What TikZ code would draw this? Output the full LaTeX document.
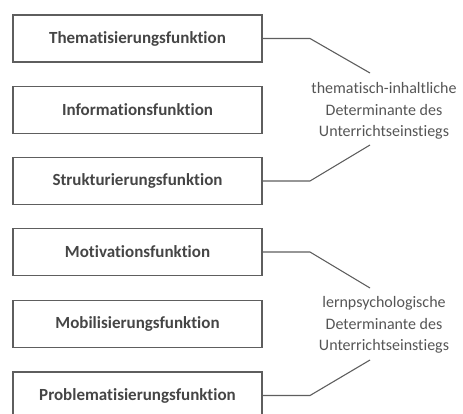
\documentclass[tikz,border=0pt]{standalone}
\usepackage{fontspec}
\setmainfont{Carlito}[Ligatures=NoCommon]
\definecolor{boxline}{HTML}{5E5E5E}
\definecolor{boxtext}{HTML}{454545}
\definecolor{sidetext}{HTML}{555555}
\begin{document}
\begin{tikzpicture}[x=1pt,y=-1pt,
  funcbox/.style={draw=boxline,line width=1.2pt,minimum width=249pt,minimum height=47pt,
    inner sep=0pt,font=\fontsize{17}{20}\selectfont\bfseries,text=boxtext},
  detlabel/.style={align=center,font=\fontsize{16}{21.5}\selectfont,text=sidetext},
  link/.style={draw=boxline,line width=1.1pt}]
\useasboundingbox (0,0) rectangle (463,413);
\clip (0,0) rectangle (463,413);
% function boxes
\node[funcbox] (f1) at (137.5,38.5)  {Thematisierungsfunktion};
\node[funcbox] (f2) at (137.5,110)   {Informationsfunktion};
\node[funcbox] (f3) at (137.5,181)   {Strukturierungsfunktion};
\node[funcbox] (f4) at (137.5,252)   {Motivationsfunktion};
\node[funcbox] (f5) at (137.5,324)   {Mobilisierungsfunktion};
\node[funcbox] (f6) at (137.5,395.5) {Problematisierungsfunktion};
% determinant labels
\node[detlabel] (d1) at (384,111) {thematisch-inhaltliche\\Determinante des\\Unterrichtseinstiegs};
\node[detlabel] (d2) at (384,325) {lernpsychologische\\Determinante des\\Unterrichtseinstiegs};
% bends of the connectors
\coordinate (a1) at (310,38.5);  \coordinate (a2) at (370,73);
\coordinate (b1) at (310,181);   \coordinate (b2) at (370,145);
\coordinate (c1) at (310,252);   \coordinate (c2) at (370,288);
\coordinate (e1) at (310,395.5); \coordinate (e2) at (370,360);
\draw[link] (f1.east) -- (a1) -- (a2);
\draw[link] (f3.east) -- (b1) -- (b2);
\draw[link] (f4.east) -- (c1) -- (c2);
\draw[link] (f6.east) -- (e1) -- (e2);
\end{tikzpicture}
\end{document}
